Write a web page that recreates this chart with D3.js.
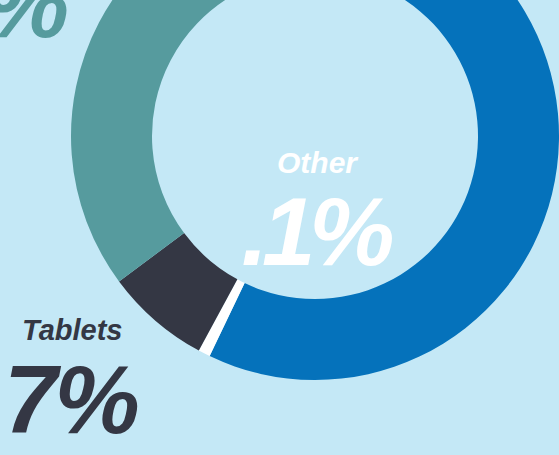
<!DOCTYPE html>
<html>
<head>
<meta charset="utf-8">
<script src="https://cdn.jsdelivr.net/npm/d3@7"></script>
<style>
  body { margin: 0; background: #c4e8f6; overflow: hidden; }
  svg { display: block; }
  .lbl { font-family: "Liberation Sans", Arial, sans-serif; font-weight: bold; font-style: italic; }
</style>
</head>
<body>
<div id="chart"></div>
<script>
// device share (percent)
var categories = ["Desktop", "Other", "Tablets", "Mobile"];
var shares = [57, 0.1, 7, 36];
var sliceColors = ["#0572bb", "#ffffff", "#343744", "#569b9e"];

var width = 559, height = 455;
var cx = 315, cy = 136;
var outerR = 244, innerR = 163;
var minShown = 0.8; // tiny slices get a visible sliver

var svg = d3.select("#chart").append("svg")
  .attr("width", width).attr("height", height);

svg.append("rect").attr("width", width).attr("height", height).attr("fill", "#c4e8f6");

var rot = 2 * Math.PI / 180;
var pie = d3.pie().sort(null)
  .value(function(d) { return Math.max(d, minShown); })
  .startAngle(rot).endAngle(rot + 2 * Math.PI);

var arc = d3.arc().innerRadius(innerR).outerRadius(outerR);

var g = svg.append("g").attr("transform", "translate(" + cx + "," + cy + ")");

g.selectAll("path.slice")
  .data(pie(shares))
  .enter().append("path")
  .attr("class", "slice")
  .attr("d", arc)
  .attr("fill", function(d, i) { return sliceColors[i]; });

function pct(v) {
  return String(v).replace(/^0\./, ".") + "%";
}

// Other, in the hole
svg.append("text").attr("class", "lbl")
  .attr("x", 317).attr("y", 173)
  .attr("text-anchor", "middle")
  .attr("font-size", 30).attr("fill", "#ffffff")
  .text(categories[1]);
svg.append("text").attr("class", "lbl")
  .attr("x", 315).attr("y", 265)
  .attr("text-anchor", "middle")
  .attr("font-size", 96).attr("letter-spacing", -6).attr("fill", "#ffffff")
  .text(pct(shares[1]));

// Tablets, bottom left
svg.append("text").attr("class", "lbl")
  .attr("x", 22).attr("y", 340)
  .attr("font-size", 29).attr("fill", "#343744")
  .text(categories[2]);
svg.append("text").attr("class", "lbl")
  .attr("x", 4).attr("y", 433)
  .attr("font-size", 96).attr("letter-spacing", -3).attr("fill", "#343744")
  .text(pct(shares[2]));

// Mobile, cut off at the top left
svg.append("text").attr("class", "lbl")
  .attr("x", 66).attr("y", 37)
  .attr("text-anchor", "end")
  .attr("font-size", 96).attr("letter-spacing", -3).attr("fill", "#569b9e")
  .text(pct(shares[3]));
</script>
</body>
</html>
